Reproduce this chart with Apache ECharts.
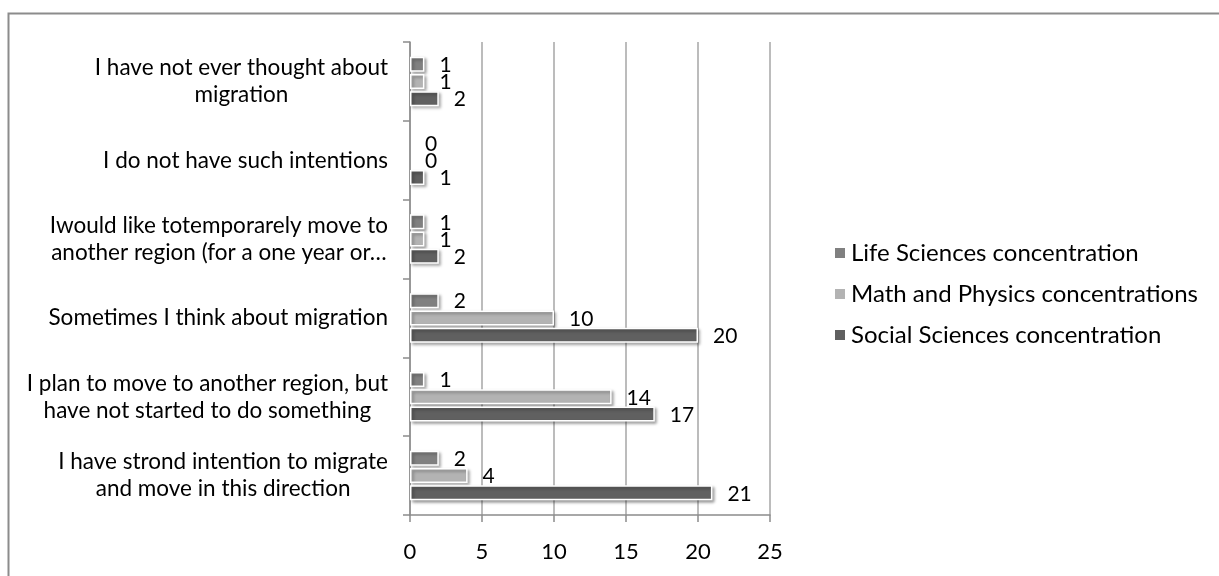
<!DOCTYPE html>
<html>
<head>
<meta charset="utf-8">
<style>
  html, body { margin: 0; padding: 0; background: #fff; }
  #chart { width: 1219px; height: 576px; }
</style>
<script src="https://cdn.jsdelivr.net/npm/echarts@6/dist/echarts.min.js"></script>
</head>
<body>
<div id="chart"></div>
<script>
// Survey answers (top to bottom)
const categories = [
  'I have not ever thought about\nmigration',
  'I do not have such intentions',
  'Iwould like totemporarely move to\nanother region (for a one year or\u2026',
  'Sometimes I think about migration',
  'I plan to move to another region, but\nhave not started to do something',
  'I have strond intention to migrate\nand move in this direction'
];

const seriesNames = [
  'Life Sciences concentration',
  'Math and Physics concentrations',
  'Social Sciences concentration'
];

const lifeSciences = [1, 0, 1, 2, 1, 2];
const mathPhysics = [1, 0, 1, 10, 14, 4];
const socialSciences = [2, 1, 2, 20, 17, 21];

const xTicks = { min: 0, max: 25, interval: 5 };

const colors = ['#808080', '#b3b3b3', '#606060'];
const FONT = 'Lato';

const chart = echarts.init(document.getElementById('chart'));

function makeSeries(name, values, color) {
  return {
    name: name,
    type: 'bar',
    barWidth: 15,
    barGap: '15%',
    data: values.map(v => v === 0
      ? { value: v, itemStyle: { borderWidth: 0, shadowBlur: 0, shadowOffsetX: 0, shadowOffsetY: 0 } }
      : v),
    itemStyle: {
      color: color,
      borderColor: '#ffffff',
      borderWidth: 1.5,
      shadowColor: 'rgba(0,0,0,0.35)',
      shadowBlur: 3,
      shadowOffsetX: 2,
      shadowOffsetY: 2
    },
    label: {
      show: true,
      position: 'right',
      distance: 15,
      offset: [0, 1],
      color: '#000',
      fontFamily: FONT,
      fontSize: 21
    },
    emphasis: { disabled: true }
  };
}

chart.setOption({
  animation: false,
  backgroundColor: '#fff',
  color: colors,
  textStyle: { fontFamily: FONT },
  graphic: [{
    type: 'rect',
    silent: true,
    z: -10,
    shape: { x: 8.5, y: 13.5, width: 1400, height: 800 },
    style: { fill: null, stroke: '#8c8c8c', lineWidth: 2 }
  }],
  grid: { left: 410, right: 449, top: 42, bottom: 61, containLabel: false },
  legend: {
    orient: 'vertical',
    left: 828,
    top: 236,
    icon: 'rect',
    itemWidth: 12,
    itemHeight: 12,
    itemGap: 17,
    textStyle: { fontFamily: FONT, fontSize: 24, color: '#000', lineHeight: 24 },
    data: seriesNames
  },
  xAxis: {
    type: 'value',
    min: xTicks.min,
    max: xTicks.max,
    interval: xTicks.interval,
    axisLine: { show: true, lineStyle: { color: '#8c8c8c', width: 1.5 } },
    axisTick: { show: true, length: 7, lineStyle: { color: '#8c8c8c', width: 1.5 } },
    axisLabel: { color: '#000', fontFamily: FONT, fontSize: 22, margin: 26 },
    splitLine: { show: true, lineStyle: { color: '#a6a6a6', width: 1.5 } }
  },
  yAxis: {
    type: 'category',
    inverse: true,
    data: categories,
    axisLine: { show: true, lineStyle: { color: '#8c8c8c', width: 1.5 } },
    axisTick: { show: true, length: 7, lineStyle: { color: '#8c8c8c', width: 1.5 } },
    axisLabel: {
      margin: 22,
      color: '#000',
      fontFamily: FONT,
      fontSize: 22.5,
      formatter: function (v) {
        return v.split('\n').map(s => '{c|' + s + '}').join('\n');
      },
      rich: {
        c: { align: 'center', fontFamily: FONT, fontSize: 22.5, lineHeight: 27, color: '#000' }
      }
    }
  },
  series: [
    makeSeries(seriesNames[0], lifeSciences, colors[0]),
    makeSeries(seriesNames[1], mathPhysics, colors[1]),
    makeSeries(seriesNames[2], socialSciences, colors[2])
  ]
});
</script>
</body>
</html>
